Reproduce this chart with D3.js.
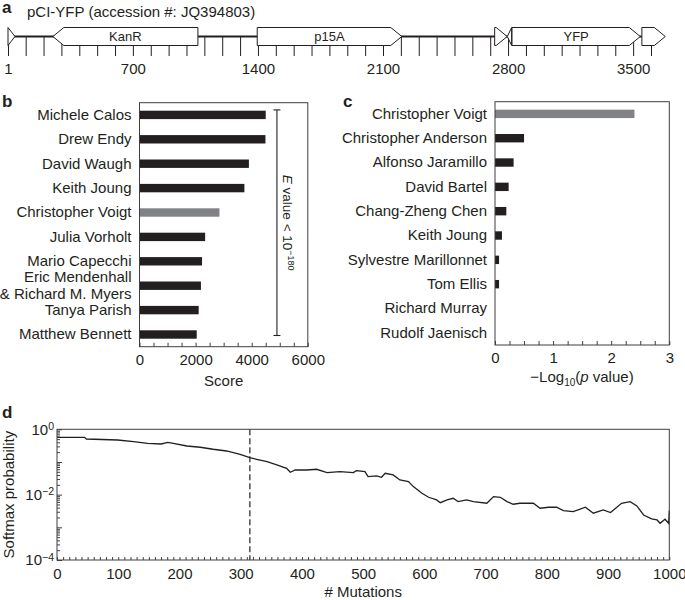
<!DOCTYPE html>
<html>
<head>
<meta charset="utf-8">
<script src="https://cdn.jsdelivr.net/npm/d3@7"></script>
<style>
  body { margin: 0; background: #fff; }
  text { font-family: "Liberation Sans", Arial, Helvetica, sans-serif; fill: #231f20; }
</style>
</head>
<body>
<script>
// ---- data ----
// a: plasmid map
const plasmidTitle = "pCI-YFP (accession #: JQ394803)";
const plasmidLabels = [1, 700, 1400, 2100, 2800, 3500];
const plasmidTicks = [1].concat(d3.range(100, 3601, 100));
const featureNames = ["", "KanR", "p15A", "", "", "YFP", ""];
const featureStart = [1, 252, 1396, 2725, 2796, 2822, 3549];
const featureEnd = [40, 1064, 2205, 2795, 2820, 3540, 3680];
const featureStrand = [1, -1, 1, 1, -1, 1, 1];

// b: score
const scoreNames = ["Michele Calos", "Drew Endy", "David Waugh", "Keith Joung", "Christopher Voigt",
  "Julia Vorholt", "Mario Capecchi", "Eric Mendenhall\n& Richard M. Myers", "Tanya Parish", "Matthew Bennett"];
const scoreValues = [4500, 4490, 3900, 3740, 2850, 2340, 2230, 2190, 2110, 2040];
const scoreTicks = [0, 2000, 4000, 6000];

// c: p value
const pNames = ["Christopher Voigt", "Christopher Anderson", "Alfonso Jaramillo", "David Bartel",
  "Chang-Zheng Chen", "Keith Joung", "Sylvestre Marillonnet", "Tom Ellis", "Richard Murray", "Rudolf Jaenisch"];
const pValues = [2.40, 0.50, 0.32, 0.235, 0.195, 0.12, 0.07, 0.07, 0, 0];
const pTicks = [0, 1, 2, 3];

const highlight = "Christopher Voigt";

// d: softmax probability vs mutations
const mutations = [0, 45, 48, 99, 125, 148, 170, 181, 190, 212, 234, 255, 277, 299, 315, 326, 343, 359,
  375, 381, 389, 408, 424, 441, 462, 484, 489, 503, 508, 522, 530, 536, 549, 560, 574, 582, 596, 607,
  620, 626, 637, 647, 655, 669, 680, 702, 713, 724, 735, 745, 756, 778, 789, 803, 816, 827, 843, 863,
  876, 892, 904, 922, 936, 947, 958, 971, 980, 985, 993, 999, 1000];
const softmax = [0.569, 0.569, 0.505, 0.471, 0.418, 0.373, 0.355, 0.400, 0.373, 0.308, 0.282, 0.245,
  0.217, 0.172, 0.135, 0.121, 0.102, 0.0809, 0.0641, 0.0484, 0.0569, 0.0569, 0.0598, 0.0471, 0.0505,
  0.0471, 0.0542, 0.0505, 0.0355, 0.0373, 0.0340, 0.0451, 0.0400, 0.0282, 0.0250, 0.0176, 0.0110,
  0.00832, 0.00689, 0.00569, 0.00689, 0.00776, 0.00611, 0.00689, 0.00611, 0.00546, 0.00869, 0.00832,
  0.00611, 0.00508, 0.00546, 0.00546, 0.00384, 0.00412, 0.00412, 0.00324, 0.00302, 0.00412, 0.00270,
  0.00340, 0.00282, 0.00546, 0.00611, 0.00451, 0.00239, 0.00181, 0.00168, 0.00133, 0.00177, 0.00133,
  0.00324];
const mutationTicks = d3.range(0, 1001, 100);
const mutationMarker = 315;

// ---- drawing ----
const ink = "#231f20", grey = "#808285", line = "#3f3f3f";
const fs = 15;
const plain = d3.format("d");
const svg = d3.select("body").append("svg").attr("width", 685).attr("height", 600);

function panelLabel(t, x, y) {
  svg.append("text").attr("x", x).attr("y", y).text(t)
    .style("font-weight", "bold").style("font-size", "17px");
}

// ===== a =====
panelLabel("a", 2, 13);
svg.append("text").attr("x", 27).attr("y", 17).style("font-size", fs + "px").text(plasmidTitle);

const xA = d3.scaleLinear().domain([1, 3600]).range([8, 651]);
const yMid = 36.5, half = 9, head = 11;

const gA = svg.append("g").attr("transform", `translate(0,${yMid})`);
gA.call(d3.axisBottom(xA).tickValues(plasmidTicks).tickSize(19.5).tickPadding(7)
  .tickFormat(d => plasmidLabels.includes(d) ? d : ""));
gA.select(".domain").remove();
gA.selectAll(".tick line").attr("stroke", ink);
gA.selectAll(".tick text").style("font-size", fs + "px").style("font-family", null).attr("fill", ink);

svg.append("line").attr("x1", xA(1)).attr("x2", xA(featureStart[6]))
  .attr("y1", yMid).attr("y2", yMid).attr("stroke", ink).attr("stroke-width", 2.2);

featureNames.forEach((name, i) => {
  const x0 = xA(featureStart[i]), x1 = xA(featureEnd[i]);
  const t = yMid - half, b = yMid + half;
  let p;
  if (featureStrand[i] > 0) {
    const xh = Math.max(x0, x1 - head);
    p = `M${x0},${t}L${xh},${t}L${x1},${yMid}L${xh},${b}L${x0},${b}Z`;
  } else {
    const xh = Math.min(x1, x0 + head);
    p = `M${x1},${t}L${xh},${t}L${x0},${yMid}L${xh},${b}L${x1},${b}Z`;
  }
  svg.append("path").attr("d", p).attr("fill", "#fff").attr("stroke", ink).attr("stroke-width", 1);
  if (name) {
    svg.append("text").attr("x", (x0 + x1) / 2).attr("y", yMid).attr("dy", "0.35em")
      .attr("text-anchor", "middle").style("font-size", "13px").text(name);
  }
});

// ===== bar panel helper =====
function barPanel(names, values, ticks, minorStep, x0, x1, y0, y1, labelY) {
  const x = d3.scaleLinear().domain([ticks[0], ticks[ticks.length - 1]]).range([x0, x1]);
  const y = d3.scaleBand().domain(names).range([y0, y1]);
  const g = svg.append("g");

  g.selectAll("rect.bar").data(names).join("rect").attr("class", "bar")
    .attr("x", x(0)).attr("y", d => y(d) + y.bandwidth() / 2 - 4.2)
    .attr("width", (d, i) => x(values[i]) - x(0)).attr("height", 8.4)
    .attr("fill", d => d === highlight ? grey : ink);

  // category labels
  const gy = g.append("g").attr("transform", `translate(${x0},0)`)
    .call(d3.axisLeft(y).tickSize(0).tickPadding(8));
  gy.select(".domain").remove();
  gy.selectAll(".tick text").style("font-size", fs + "px").style("font-family", null).attr("fill", ink)
    .each(function (d) {
      const lines = d.split("\n");
      if (lines.length > 1) {
        const t = d3.select(this).text(null).attr("dy", null);
        lines.forEach((l, k) => t.append("tspan").attr("x", -8)
          .attr("dy", k === 0 ? "-0.22em" : "1.12em").text(l));
      }
    });

  // minor inward ticks
  const minor = d3.range(ticks[0], ticks[ticks.length - 1] + minorStep / 2, minorStep);
  const gm = g.append("g").attr("transform", `translate(0,${y1})`)
    .call(d3.axisBottom(x).tickValues(minor).tickSize(-4).tickFormat(""));
  gm.select(".domain").remove();
  gm.selectAll(".tick line").attr("stroke", line);

  const gx = g.append("g").attr("transform", `translate(0,${y1})`)
    .call(d3.axisBottom(x).tickValues(ticks).tickSize(0).tickPadding(labelY).tickFormat(plain));
  gx.select(".domain").remove();
  gx.selectAll(".tick text").style("font-size", fs + "px").style("font-family", null).attr("fill", ink);

  g.append("rect").attr("x", x0).attr("y", y0).attr("width", x1 - x0).attr("height", y1 - y0)
    .attr("fill", "none").attr("stroke", line).attr("stroke-width", 1);
  return { x, y };
}

// ===== b =====
panelLabel("b", 2, 107);
const B = barPanel(scoreNames, scoreValues, scoreTicks, 500, 139.5, 307.8, 102.7, 346.7, 7.5);
svg.append("text").attr("x", (139.5 + 307.8) / 2).attr("y", 386).attr("text-anchor", "middle")
  .style("font-size", fs + "px").text("Score");

// E value bracket
{
  const bx = B.x(4900);
  const ya = B.y(scoreNames[0]) + B.y.bandwidth() / 2 - 5;
  const yb = B.y(scoreNames[scoreNames.length - 1]) + B.y.bandwidth() / 2 + 1;
  const br = svg.append("g").attr("stroke", ink).attr("stroke-width", 1.1);
  br.append("line").attr("x1", bx).attr("x2", bx).attr("y1", ya).attr("y2", yb);
  br.append("line").attr("x1", bx - 3.5).attr("x2", bx + 3.5).attr("y1", ya).attr("y2", ya);
  br.append("line").attr("x1", bx - 3.5).attr("x2", bx + 3.5).attr("y1", yb).attr("y2", yb);
  const et = svg.append("text").attr("transform", `translate(${bx + 6.5},${(ya + yb) / 2}) rotate(90)`)
    .attr("text-anchor", "middle").style("font-size", "13.5px");
  et.append("tspan").style("font-style", "italic").text("E");
  et.append("tspan").text(" value < 10");
  et.append("tspan").attr("dy", -5).style("font-size", "9px").text("\u2212180");
}

// ===== c =====
panelLabel("c", 343, 107);
barPanel(pNames, pValues, pTicks, 0.25, 495, 669.3, 101.7, 345, 7);
{
  const lt = svg.append("text").attr("x", 582).attr("y", 382).attr("text-anchor", "middle")
    .style("font-size", fs + "px");
  lt.append("tspan").text("\u2212Log");
  lt.append("tspan").attr("dy", 4).style("font-size", "10px").text("10");
  lt.append("tspan").attr("dy", -4).text("(");
  lt.append("tspan").style("font-style", "italic").text("p");
  lt.append("tspan").text(" value)");
}

// ===== d =====
panelLabel("d", 2, 418);
{
  const x0 = 57, x1 = 669.3, y0 = 429.3, y1 = 560;
  const x = d3.scaleLinear().domain([0, 1000]).range([x0, x1]);
  const y = d3.scaleLog().domain([1e-4, 1]).range([y1, y0]);
  const g = svg.append("g");

  // minor ticks
  const gmx = g.append("g").attr("transform", `translate(0,${y1})`)
    .call(d3.axisBottom(x).tickValues(d3.range(0, 1001, 10)).tickSize(-3).tickFormat(""));
  gmx.select(".domain").remove();
  gmx.selectAll(".tick line").attr("stroke", line);

  const gmy = g.append("g").attr("transform", `translate(${x0},0)`)
    .call(d3.axisLeft(y).tickValues(y.ticks()).tickSize(-3).tickFormat(""));
  gmy.select(".domain").remove();
  gmy.selectAll(".tick line").attr("stroke", line)
    .attr("x2", d => Math.abs(Math.log10(d) % 1) < 1e-9 ? 5 : 3);

  const gx = g.append("g").attr("transform", `translate(0,${y1})`)
    .call(d3.axisBottom(x).tickValues(mutationTicks).tickSize(0).tickPadding(8.5).tickFormat(plain));
  gx.select(".domain").remove();
  gx.selectAll(".tick text").style("font-size", fs + "px").style("font-family", null).attr("fill", ink);

  const gy = g.append("g").attr("transform", `translate(${x0},0)`)
    .call(d3.axisLeft(y).tickValues([1, 1e-2, 1e-4]).tickSize(0).tickPadding(3));
  gy.select(".domain").remove();
  gy.selectAll(".tick text").style("font-size", fs + "px").style("font-family", null).attr("fill", ink)
    .each(function (d) {
      const e = Math.round(Math.log10(d));
      const t = d3.select(this).text(null);
      t.append("tspan").text("10");
      t.append("tspan").attr("dy", "-0.45em").style("font-size", "10.5px")
        .text(e === 0 ? "0" : "\u2212" + Math.abs(e));
    });

  g.append("line").attr("x1", x(mutationMarker)).attr("x2", x(mutationMarker))
    .attr("y1", y0).attr("y2", y1).attr("stroke", ink).attr("stroke-width", 1.2)
    .attr("stroke-dasharray", "6,3");

  g.append("path").datum(mutations.map((m, i) => [m, softmax[i]]))
    .attr("d", d3.line().x(d => x(d[0])).y(d => y(d[1])))
    .attr("fill", "none").attr("stroke", ink).attr("stroke-width", 1.3);

  g.append("rect").attr("x", x0).attr("y", y0).attr("width", x1 - x0).attr("height", y1 - y0)
    .attr("fill", "none").attr("stroke", line).attr("stroke-width", 1);

  svg.append("text").attr("x", (x0 + x1) / 2).attr("y", 597).attr("text-anchor", "middle")
    .style("font-size", fs + "px").text("# Mutations");
  svg.append("text").attr("transform", `translate(13.5,${(y0 + y1) / 2}) rotate(-90)`)
    .attr("text-anchor", "middle").style("font-size", fs + "px").text("Softmax probability");
}
</script>
</body>
</html>
